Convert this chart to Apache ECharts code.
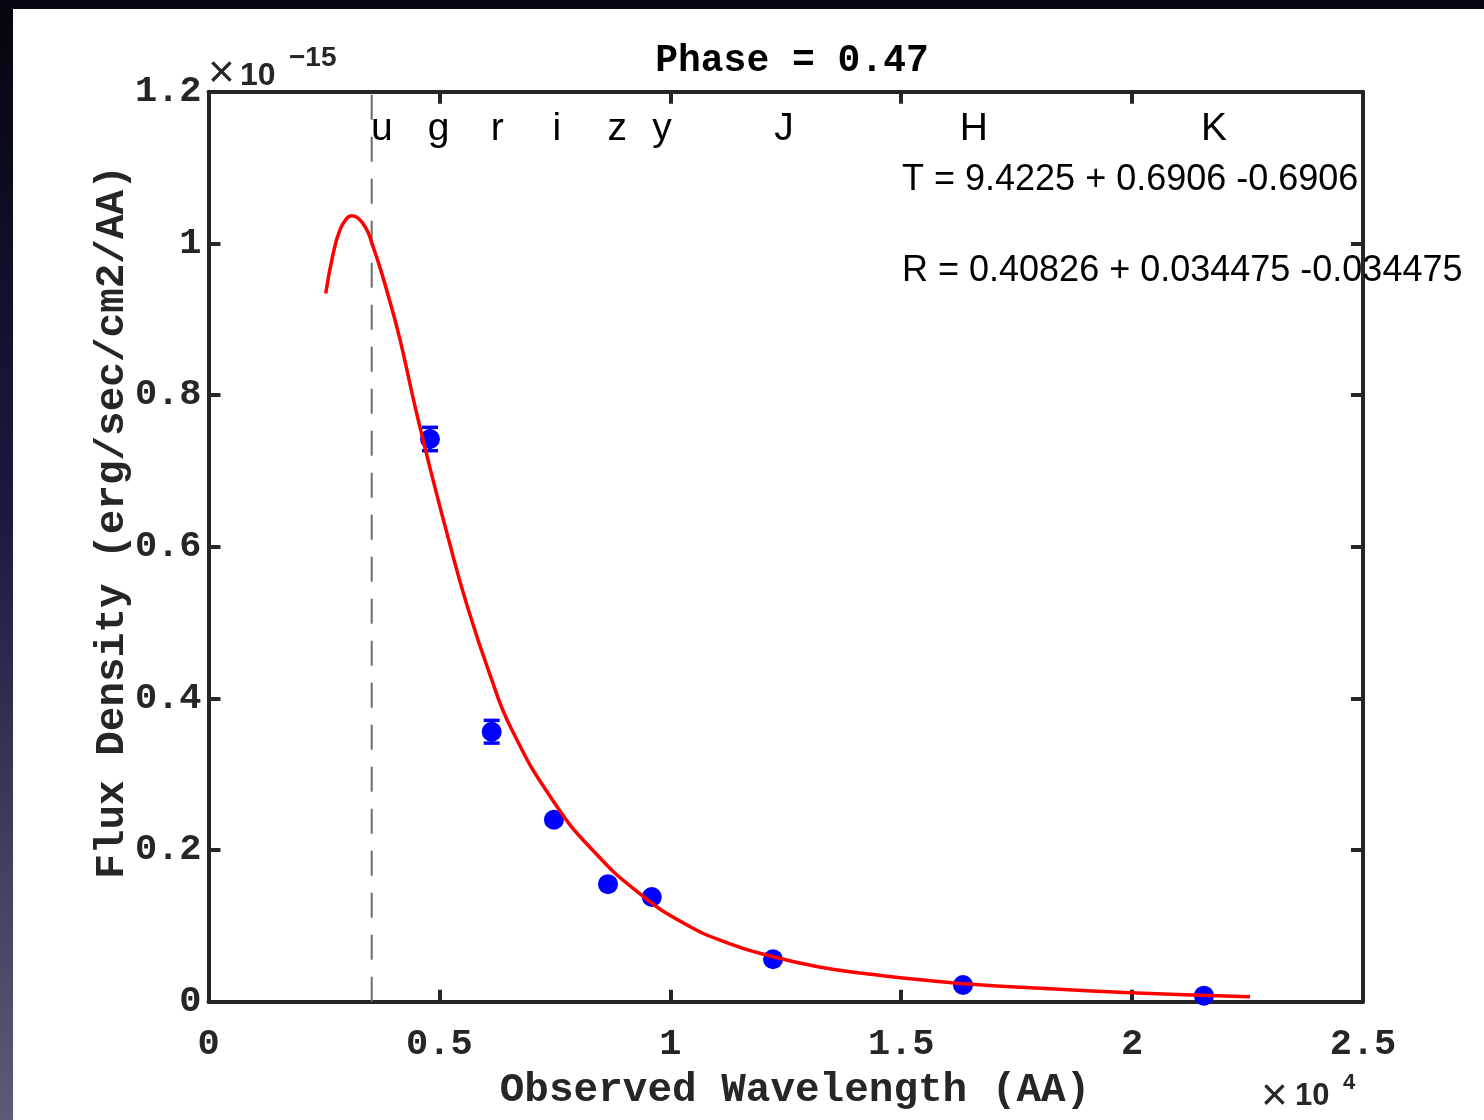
<!DOCTYPE html>
<html><head><meta charset="utf-8">
<script src="https://cdn.jsdelivr.net/npm/echarts@6/dist/echarts.min.js"></script>
<style>html,body{margin:0;padding:0;background:#fff;}#c{width:1484px;height:1120px;}</style>
</head><body><div id="c"></div>
<script>
// Fitted blackbody curve, wavelength in AA, flux in 1e-15 erg/s/cm2/AA
const fitWavelength = [2538, 2702, 2848, 2993, 3101, 3244, 3426, 3534, 3714, 3930, 4147, 4450, 4638, 4796, 5158, 5591, 6096, 6566, 7460, 8361, 9329, 10294, 11262, 12228, 13196, 14162, 16096, 18027, 19963, 22553];
const fitFlux       = [0.934, 0.987, 1.018, 1.033, 1.0365, 1.033, 1.018, 1.001, 0.968, 0.923, 0.873, 0.791, 0.743, 0.704, 0.619, 0.524, 0.431, 0.359, 0.265, 0.197, 0.143, 0.1034, 0.077, 0.0593, 0.0462, 0.0375, 0.0251, 0.0177, 0.0119, 0.0066];
// Photometric points
const obsWavelength = [4796, 6132, 7480, 8651, 9599, 12224, 16338, 21556];
const obsFlux       = [0.742, 0.356, 0.240, 0.155, 0.138, 0.056, 0.022, 0.008];
const obsErr        = [0.0154, 0.015, 0.006, 0.005, 0.005, 0.003, 0.002, 0.001];
// Band labels
const bandNames = ['u', 'g', 'r', 'i', 'z', 'y', 'J', 'H', 'K'];
const bandLabelWavelength = [3520, 4750, 6110, 7450, 8640, 9610, 12250, 16270, 21490];
const bandLabelFlux = 1.150;
// Dashed u-band edge
const uEdgeWavelength = 3534;
const uEdgeFlux = [0, 1.2];
// Texts
const titleText = 'Phase = 0.47';
const xLabelText = 'Observed Wavelength (AA)';
const yLabelText = 'Flux Density (erg/sec/cm2/AA)';
const fitTText = 'T = 9.4225 + 0.6906 -0.6906';
const fitRText = 'R = 0.40826 + 0.034475 -0.034475';
const yExponent = '\u221215';
const xExponent = '4';

const AX = '#262626';
const MONO = "'Liberation Mono', 'Courier New', monospace";
const SANS = "'Liberation Sans', Arial, Helvetica, sans-serif";

const fitData = fitWavelength.map((w, i) => [w, fitFlux[i]]);
const obsData = obsWavelength.map((w, i) => [w, obsFlux[i], obsErr[i]]);
const bandData = bandLabelWavelength.map((w, i) => [w, bandLabelFlux, i]);
const edgeData = uEdgeFlux.map(f => [uEdgeWavelength, f]);

function axisCommon(pos, showLabel) {
  return {
    type: 'value', position: pos, min: 0,
    axisLine: { show: true, onZero: false, lineStyle: { color: AX, width: 4 } },
    axisTick: { show: true, inside: true, length: 12, lineStyle: { color: AX, width: 4 } },
    splitLine: { show: false },
    axisLabel: { show: showLabel, color: AX, fontFamily: MONO, fontWeight: 'bold', fontSize: 37 }
  };
}
const xb = axisCommon('bottom', true);
Object.assign(xb, { max: 25000, interval: 5000 });
xb.axisLabel.margin = 24;
xb.axisLabel.formatter = v => String(+(v / 10000).toFixed(2));
const xt = axisCommon('top', false);
Object.assign(xt, { max: 25000, interval: 5000 });
const yl = axisCommon('left', true);
Object.assign(yl, { max: 1.2, interval: 0.2 });
yl.axisLabel.margin = 7;
yl.axisLabel.formatter = v => String(+v.toFixed(1));
const yr = axisCommon('right', false);
Object.assign(yr, { max: 1.2, interval: 0.2 });

function txt(x, y, text, size, opts) {
  const o = opts || {};
  return {
    type: 'text', x: x, y: y, rotation: o.rotation || 0, z: 100,
    style: {
      text: text, fill: o.color || '#000', fontSize: size, fontFamily: o.family || SANS,
      fontWeight: o.weight || 'normal',
      align: o.align || 'left', textAlign: o.align || 'left',
      verticalAlign: 'middle', textVerticalAlign: 'middle'
    }
  };
}

const chart = echarts.init(document.getElementById('c'), null, { renderer: 'canvas' });
chart.setOption({
  animation: false,
  backgroundColor: '#ffffff',
  grid: { left: 208.5, right: 121, top: 91.7, bottom: 118.3, containLabel: false },
  xAxis: [xb, xt],
  yAxis: [yl, yr],
  series: [
    {
      type: 'line', data: edgeData, symbol: 'none', z: 2, silent: true,
      lineStyle: { color: '#6a6a6a', width: 2, type: [25, 17] }
    },
    {
      type: 'custom', data: obsData, z: 3, clip: false,
      renderItem: function (params, api) {
        const x = api.value(0), y = api.value(1), e = api.value(2);
        const t = api.coord([x, y + e]), b = api.coord([x, y - e]);
        const hw = 8, st = { stroke: '#0000ff', lineWidth: 3.5 };
        return { type: 'group', children: [
          { type: 'line', shape: { x1: t[0], y1: t[1], x2: b[0], y2: b[1] }, style: st },
          { type: 'line', shape: { x1: t[0] - hw, y1: t[1], x2: t[0] + hw, y2: t[1] }, style: st },
          { type: 'line', shape: { x1: b[0] - hw, y1: b[1], x2: b[0] + hw, y2: b[1] }, style: st }
        ] };
      }
    },
    {
      type: 'scatter', data: obsData.map(d => [d[0], d[1]]), symbol: 'circle', symbolSize: 20, z: 4, clip: false,
      itemStyle: { color: '#0000ff', opacity: 1 }
    },
    {
      type: 'line', data: fitData, symbol: 'none', smooth: 0.5, z: 5,
      lineStyle: { color: '#ff0000', width: 3.5 }
    },
    {
      type: 'custom', data: bandData, z: 6, clip: false,
      renderItem: function (params, api) {
        const p = api.coord([api.value(0), api.value(1)]);
        return { type: 'text', x: p[0], y: p[1], style: {
          text: bandNames[params.dataIndex], fill: '#000', fontSize: 39, fontFamily: SANS,
          align: 'left', textAlign: 'left', verticalAlign: 'middle', textVerticalAlign: 'middle' } };
      }
    }
  ],
  graphic: [
    { type: 'rect', shape: { x: 0, y: 0, width: 1484, height: 9 }, style: { fill: '#05050f' }, z: 200 },
    { type: 'rect', shape: { x: 0, y: 0, width: 13, height: 1120 }, z: 200,
      style: { fill: { type: 'linear', x: 0, y: 0, x2: 0, y2: 1, colorStops: [
        { offset: 0, color: '#05050f' }, { offset: 0.45, color: '#191940' }, { offset: 1, color: '#5b5b76' } ] } } },
    txt(792, 61, titleText, 38, { family: MONO, weight: 'bold', align: 'center' }),
    txt(795, 1091, xLabelText, 41, { family: MONO, weight: 'bold', align: 'center', color: AX }),
    txt(113, 522, yLabelText, 41, { family: MONO, weight: 'bold', align: 'center', color: AX, rotation: Math.PI / 2 }),
    txt(902, 180, fitTText, 36),
    txt(902, 271, fitRText, 36),
    txt(208, 74, '\u00d7', 46, { color: AX }),
    txt(240, 76, '10', 32, { weight: 'bold', color: AX }),
    txt(289, 58, yExponent, 28, { weight: 'bold', color: AX }),
    txt(1261, 1097, '\u00d7', 46, { color: AX }),
    txt(1295, 1096, '10', 31, { weight: 'bold', color: AX }),
    txt(1343, 1083, xExponent, 22, { weight: 'bold', color: AX })
  ]
});
</script>
</body></html>
